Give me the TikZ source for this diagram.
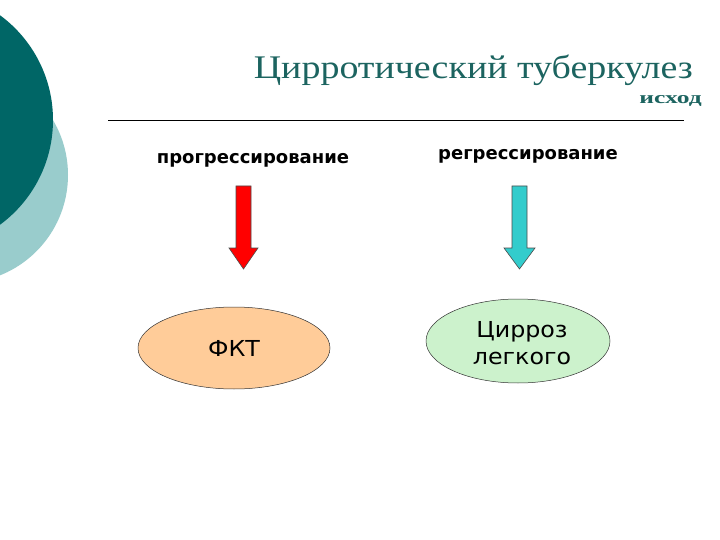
\documentclass[tikz,border=0pt]{standalone}
\usepackage{fontspec}
\setmainfont{Liberation Serif}
\newfontfamily\labfont{DejaVu Sans}
\definecolor{darkteal}{RGB}{0,102,102}
\definecolor{lightteal}{RGB}{153,204,204}
\definecolor{titleteal}{RGB}{28,100,96}
\definecolor{arrowred}{RGB}{255,0,0}
\definecolor{arrowcyan}{RGB}{51,204,204}
\definecolor{peach}{RGB}{255,204,153}
\definecolor{palegreen}{RGB}{204,242,204}
\tikzset{
  blockarrow/.style={draw=black!70, line width=0.6pt, line join=miter},
  lab/.style={font=\labfont\bfseries\fontsize{18}{20}\selectfont, inner sep=0pt},
  ovaltext/.style={font=\labfont\fontsize{22}{27}\selectfont, align=center, inner sep=0pt, xscale=1.08}
}
\usetikzlibrary{shapes.geometric}
\begin{document}
\begin{tikzpicture}[x=1pt,y=-1pt]
\useasboundingbox (0,0) rectangle (720,540);
\fill[white] (0,0) rectangle (720,540);
% decorative circles
\begin{scope}
\clip (0,0) rectangle (720,540);
\fill[lightteal] (-40,175) circle[radius=108];
\fill[darkteal] (-77,120) circle[radius=130];
\end{scope}
% title
\node[anchor=base east, text=titleteal, inner sep=0pt, xscale=1.15, font=\fontsize{33}{38}\selectfont] (title) at (693,79) {Цирротический туберкулез};
\node[anchor=base east, text=titleteal, inner sep=0pt, xscale=1.5, font=\bfseries\fontsize{17}{19}\selectfont] (outcome) at (702,104) {исход};
\coordinate (rl) at (108,120);
\coordinate (rr) at (684,120);
\draw[line width=0.8pt] (rl) -- (rr);
% labels
\node[lab, anchor=base] (prog) at (253,164) {прогрессирование};
\node[lab, anchor=base] (regr) at (528,160) {регрессирование};
% block arrows
\draw[blockarrow, fill=arrowred] (236,186) -- (251,186) -- (251,248) -- (258,248) -- (243.5,269) -- (229,248) -- (236,248) -- cycle;
\draw[blockarrow, fill=arrowcyan] (512,186) -- (527,186) -- (527,248) -- (535,248) -- (519.5,269) -- (504,248) -- (512,248) -- cycle;
% ovals
\draw[black!80, line width=0.5pt, fill=peach] (234,348) ellipse[x radius=96, y radius=41];
\node[ovaltext, anchor=base] (fkt) at (234,356) {ФКТ};
\draw[black!80, line width=0.5pt, fill=palegreen] (518,341) ellipse[x radius=92, y radius=42];
\node[ovaltext, anchor=base] (cirr) at (522,364) {Цирроз\\легкого};
\end{tikzpicture}
\end{document}
